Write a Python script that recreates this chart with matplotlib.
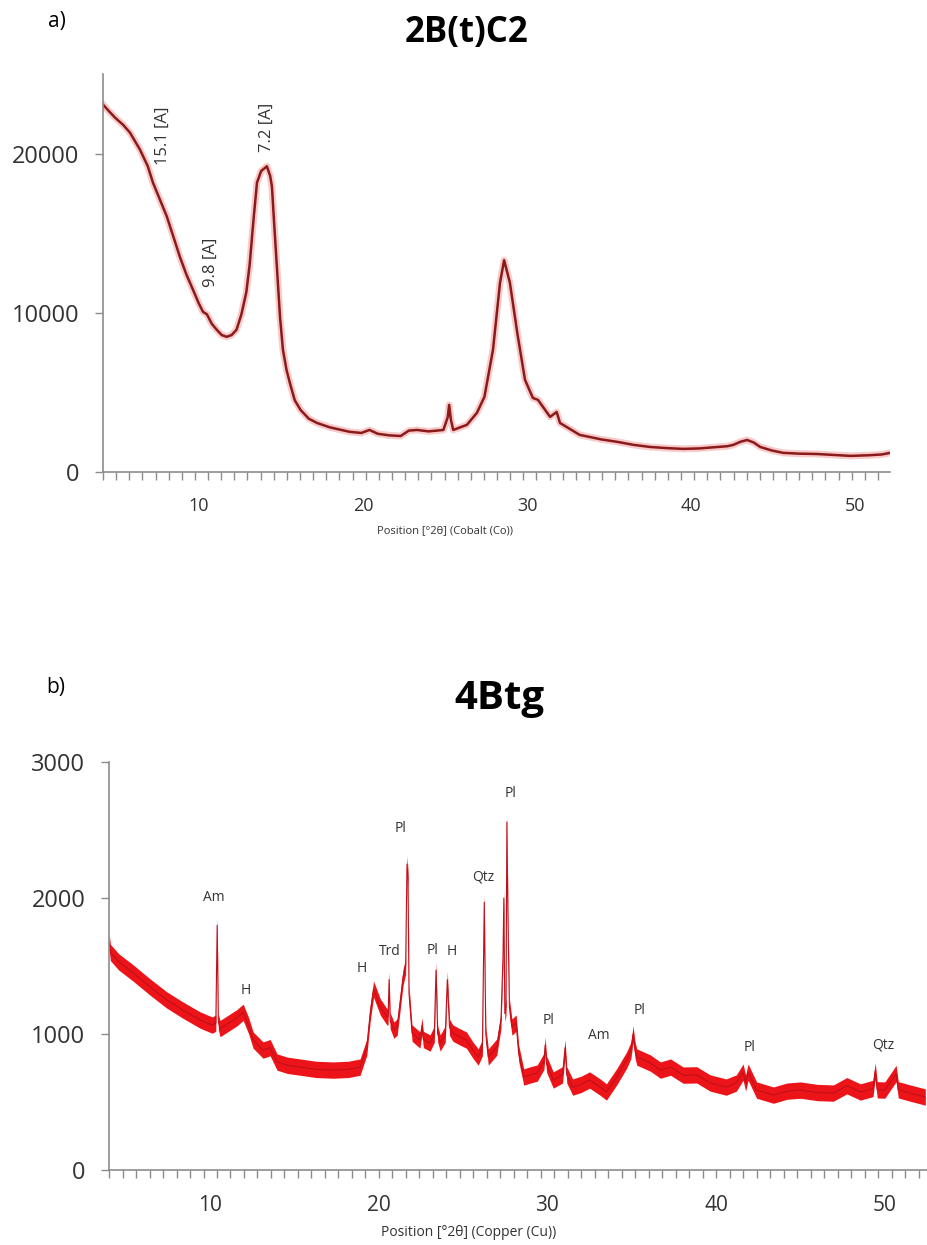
import numpy as np
import matplotlib.pyplot as plt
from matplotlib.ticker import FixedLocator

plt.rcParams['font.family'] = ['Open Sans', 'DejaVu Sans']

# a) sample 2B(t)C2, cobalt radiation
top_2theta = [4.17, 4.5, 4.9, 5.4, 5.81, 6.42, 6.9, 7.21, 7.6, 8.06, 8.45, 8.85,
              9.25, 9.65, 10.0, 10.26, 10.5, 10.8, 11.1, 11.4, 11.7, 12.0, 12.3,
              12.6, 12.9, 13.1, 13.35, 13.55, 13.8, 14.15, 14.35, 14.46, 14.6,
              14.76, 14.95, 15.13, 15.35, 15.55, 15.85, 16.2, 16.7, 17.2, 18.0,
              19.2, 19.9, 20.4, 20.9, 21.6, 22.3, 22.8, 23.3, 24.0, 24.9, 25.17,
              25.25, 25.36, 25.5, 26.33, 26.94, 27.4, 27.92, 28.35, 28.6, 28.95,
              29.4, 29.87, 30.35, 30.66, 31.4, 31.8, 32.0, 33.2, 34.5, 35.5, 36.5,
              37.5, 38.5, 39.5, 40.5, 41.6, 42.2, 42.55, 43.0, 43.4, 43.8, 44.2,
              44.9, 45.6, 46.6, 47.65, 48.5, 49.7, 50.8, 51.6, 52.1]
top_counts = [23080, 22700, 22260, 21800, 21320, 20250, 19200, 18180, 17200, 16040,
              14800, 13520, 12400, 11450, 10600, 10060, 9900, 9300, 8930, 8600,
              8490, 8600, 8930, 9900, 11300, 13000, 16000, 18180, 18900, 19200,
              18600, 17920, 15500, 12890, 9750, 7670, 6400, 5600, 4500, 3900,
              3350, 3080, 2800, 2520, 2450, 2640, 2400, 2300, 2260, 2600, 2640,
              2550, 2640, 3460, 4210, 3270, 2640, 2960, 3710, 4720, 7670, 11890,
              13300, 11890, 8740, 5790, 4650, 4530, 3460, 3770, 3080, 2330, 2050,
              1890, 1700, 1570, 1500, 1450, 1480, 1570, 1620, 1700, 1900, 2010,
              1850, 1570, 1350, 1200, 1150, 1130, 1080, 1010, 1050, 1100, 1200]
top_labels = ['15.1 [A]', '9.8 [A]', '7.2 [A]']
top_label_x = [7.79, 10.75, 14.15]
top_label_y = [21130, 13200, 21640]

# b) sample 4Btg, copper radiation
bot_2theta = [4.03, 4.1, 4.6, 5.45, 6.45, 7.45, 8.4, 9.42, 10.13, 10.35, 10.43,
              10.5, 10.6, 11.2, 11.6, 11.97, 12.3, 12.56, 13.15, 13.57, 13.98,
              14.6, 15.35, 16.3, 17.3, 18.2, 18.9, 19.3, 19.5, 19.7, 20.1, 20.5,
              20.56, 20.62, 20.68, 20.9, 21.1, 21.45, 21.6, 21.68, 21.74, 21.8,
              21.98, 22.45, 22.57, 22.65, 23.05, 23.3, 23.4, 23.5, 23.65, 23.95,
              24.07, 24.2, 24.4, 24.8, 25.2, 25.6, 25.9, 26.15, 26.26, 26.35, 26.5,
              27.0, 27.25, 27.37, 27.42, 27.48, 27.55, 27.6, 27.66, 27.75, 27.9,
              28.15, 28.3, 28.6, 29.0, 29.4, 29.8, 29.87, 29.95, 30.35, 30.9,
              31.05, 31.15, 31.5, 32.0, 32.5, 33.13, 33.5, 34.1, 34.7, 34.95,
              35.08, 35.2, 35.3, 36.1, 36.7, 37.3, 38.05, 38.85, 39.65, 40.6,
              41.2, 41.6, 41.75, 41.9, 42.4, 43.4, 44.2, 45.0, 46.0, 46.95, 47.75,
              48.55, 49.3, 49.43, 49.55, 50.0, 50.67, 50.8, 51.5, 52.4]
bot_counts = [1680, 1600, 1530, 1449, 1346, 1250, 1176, 1103, 1066, 1080, 1800,
              1090, 1040, 1088, 1120, 1160, 1060, 956, 882, 900, 794, 770, 757,
              740, 735, 740, 757, 904, 1154, 1330, 1199, 1125, 1130, 1400, 1100,
              1029, 1051, 1420, 1500, 2250, 2150, 1300, 1007, 956, 1060, 960, 934,
              1000, 1470, 1000, 934, 1000, 1400, 1050, 1007, 980, 956, 880, 831,
              900, 1970, 1000, 831, 904, 1100, 1566, 2000, 1150, 1200, 2560, 1900,
              1200, 1051, 1081, 860, 684, 700, 713, 800, 920, 780, 662, 700, 900,
              700, 610, 630, 662, 610, 574, 684, 809, 880, 1000, 880, 831, 787,
              735, 757, 698, 700, 640, 610, 640, 720, 640, 720, 588, 551, 580, 588,
              570, 566, 620, 574, 600, 730, 590, 588, 710, 590, 566, 537]
bot_labels = ['Am', 'H', 'H', 'Trd', 'Pl', 'Pl', 'H', 'Qtz', 'Pl', 'Pl', 'Am',
              'Pl', 'Pl', 'Qtz']
bot_label_x = [10.25, 12.13, 19.0, 20.64, 21.32, 23.19, 24.34, 26.22, 27.8,
               30.1, 33.07, 35.46, 41.98, 49.89]
bot_label_y = [2007, 1318, 1483, 1610, 2512, 1618, 1605, 2157, 2770, 1103, 993,
               1176, 900, 919]

noise_halfwidth = 60
axis_grey = '#8c8c8c'
text_grey = '#333333'


def style_axes(ax, xlim, ylim, yticks, xfont, yfont):
    ax.set_xlim(*xlim)
    ax.set_ylim(*ylim)
    for side in ('top', 'right'):
        ax.spines[side].set_visible(False)
    for side in ('left', 'bottom'):
        ax.spines[side].set_color(axis_grey)
        ax.spines[side].set_linewidth(1.2)
    ax.set_yticks(yticks)
    ax.set_xticks([10, 20, 30, 40, 50])
    ax.xaxis.set_minor_locator(FixedLocator(np.arange(xlim[0], xlim[1], 0.8)))
    ax.tick_params(axis='x', which='major', length=0, pad=18,
                   labelsize=xfont, labelcolor=text_grey)
    ax.tick_params(axis='x', which='minor', length=6, width=1, color=axis_grey)
    ax.tick_params(axis='y', length=6, width=1, color=axis_grey, pad=11,
                   labelsize=yfont, labelcolor=text_grey)


def main():
    fig = plt.figure(figsize=(9.27, 12.45), dpi=100)

    # top panel
    ax1 = fig.add_axes([0.1111, 0.6209, 0.849, 0.3197])
    ax1.plot(top_2theta, top_counts, color='#f08a8a', lw=5, alpha=0.45,
             solid_joinstyle='round')
    ax1.plot(top_2theta, top_counts, color='#8b1a1a', lw=1.8)
    for txt, x, y in zip(top_labels, top_label_x, top_label_y):
        ax1.text(x, y, txt, rotation=90, ha='center', va='center',
                 fontsize=12, color=text_grey)
    style_axes(ax1, (4.17, 52.1), (0, 25000), [0, 10000, 20000], 13, 17)

    # bottom panel
    ax2 = fig.add_axes([0.1176, 0.0602, 0.8824, 0.3277])
    y = np.array(bot_counts)
    ax2.fill_between(bot_2theta, y - noise_halfwidth, y + noise_halfwidth,
                     color='#ec1418', lw=0)
    ax2.plot(bot_2theta, y, color='#c0101a', lw=0.8)
    for txt, x, yy in zip(bot_labels, bot_label_x, bot_label_y):
        ax2.text(x, yy, txt, ha='center', va='center', fontsize=10,
                 color=text_grey)
    style_axes(ax2, (4.02, 52.5), (0, 3000), [0, 1000, 2000, 3000], 15, 17)

    # panel letters, titles and axis captions
    fig.text(57 / 927, 1 - 22 / 1245, 'a)', fontsize=15, ha='center',
             va='center')
    fig.text(56 / 927, 1 - 687 / 1245, 'b)', fontsize=15, ha='center',
             va='center')
    fig.text(467 / 927, 1 - 33 / 1245, '2B(t)C2', fontsize=25,
             fontweight='bold', ha='center', va='center')
    fig.text(499 / 927, 1 - 699 / 1245, '4Btg', fontsize=29,
             fontweight='bold', ha='center', va='center')
    fig.text(445 / 927, 1 - 531 / 1245, 'Position [°2θ] (Cobalt (Co))',
             fontsize=8, ha='center', va='center', color=text_grey)
    fig.text(469 / 927, 1 - 1233 / 1245, 'Position [°2θ] (Copper (Cu))',
             fontsize=10, ha='center', va='center', color=text_grey)

    fig.savefig('out.png', dpi=100)


if __name__ == '__main__':
    main()
